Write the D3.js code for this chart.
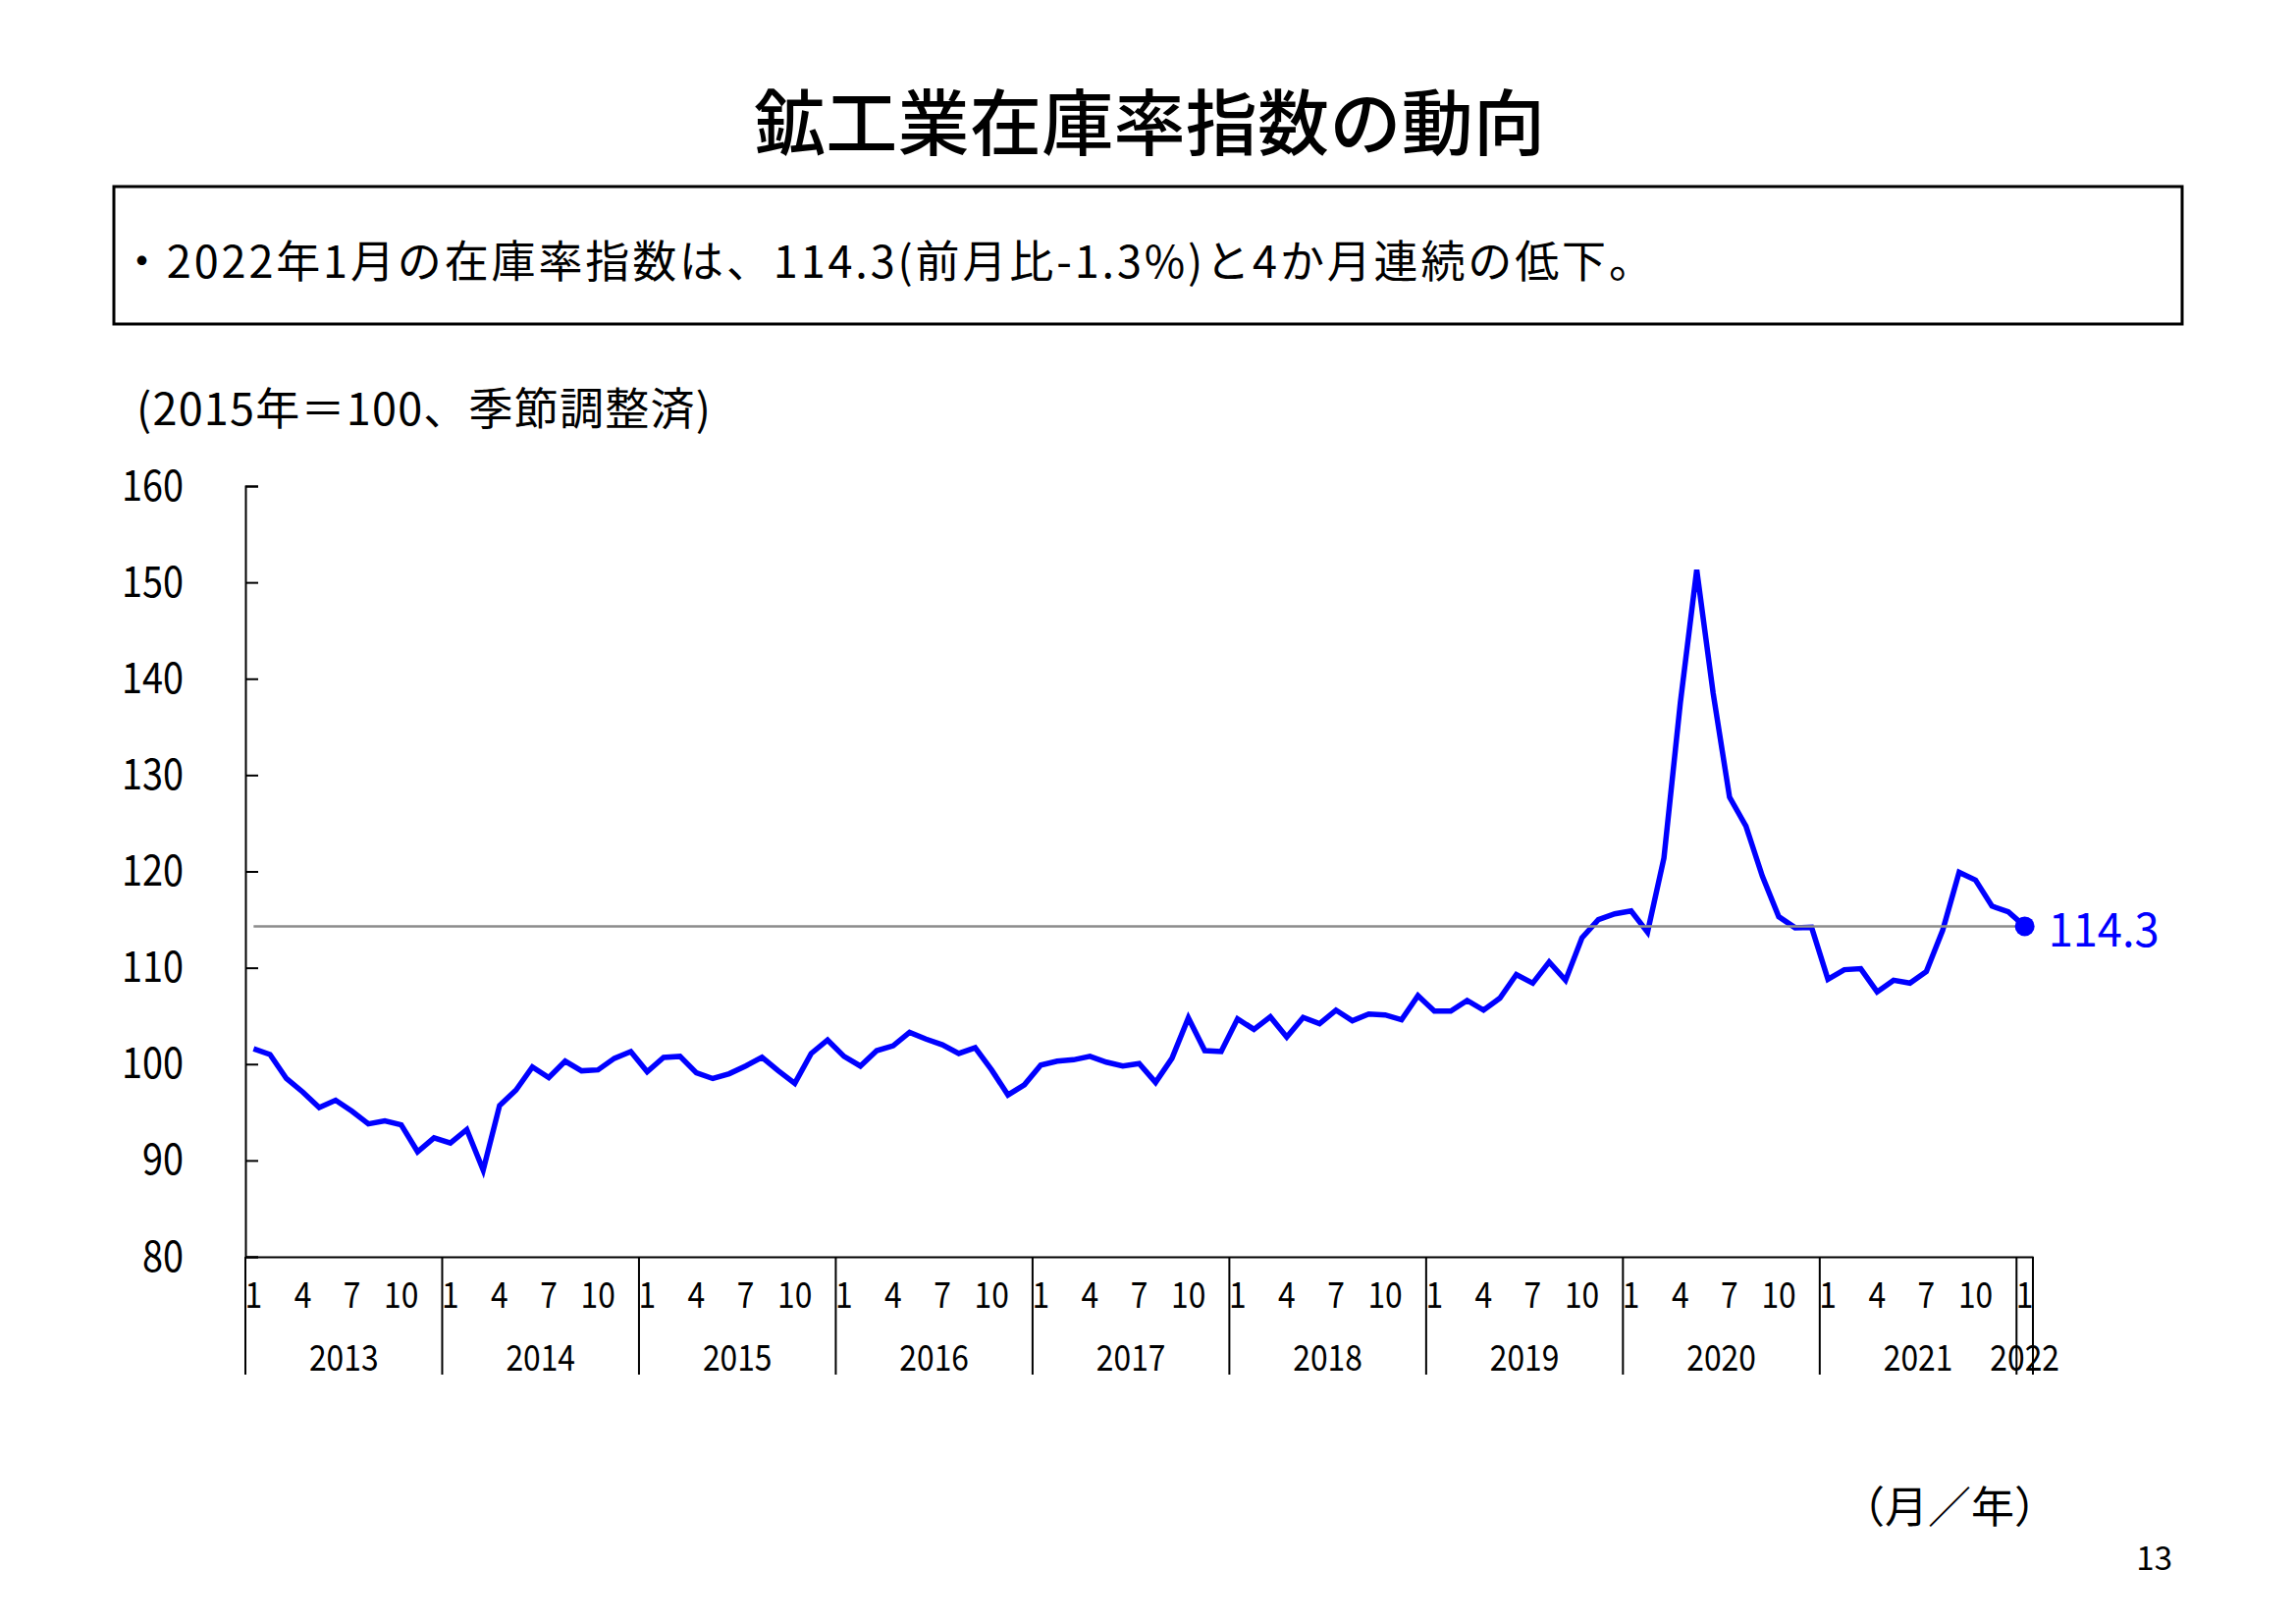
<!DOCTYPE html>
<html>
<head>
<meta charset="utf-8">
<script src="https://cdn.jsdelivr.net/npm/d3@7"></script>
<style>
  html, body { margin: 0; padding: 0; background: #fff; }
  svg text { font-family: "Noto Sans CJK JP", "Noto Sans", sans-serif; fill: #000; }
</style>
</head>
<body>
<svg id="chart" width="2339" height="1654"></svg>
<script>
// ---- data ----
const titleText = "鉱工業在庫率指数の動向";
const noteText = "・2022年1月の在庫率指数は、114.3(前月比-1.3%)と4か月連続の低下。";
const unitText = "(2015年＝100、季節調整済)";
const axisUnitText = "（月／年）";
const pageNo = "13";

const years = [2013, 2014, 2015, 2016, 2017, 2018, 2019, 2020, 2021, 2022];
const monthTickLabels = [1, 4, 7, 10];
const yTicks = [80, 90, 100, 110, 120, 130, 140, 150, 160];

const values2013 = [101.6, 101.0, 98.5, 97.1, 95.5, 96.25, 95.1, 93.8, 94.1, 93.7, 90.9, 92.35];
const values2014 = [91.8, 93.2, 89.0, 95.7, 97.3, 99.7, 98.6, 100.3, 99.3, 99.4, 100.6, 101.3];
const values2015 = [99.2, 100.7, 100.8, 99.1, 98.5, 99.0, 99.8, 100.7, 99.3, 98.0, 101.1, 102.5];
const values2016 = [100.8, 99.8, 101.4, 101.9, 103.3, 102.6, 102.0, 101.1, 101.7, 99.4, 96.8, 97.85];
const values2017 = [99.9, 100.3, 100.45, 100.8, 100.2, 99.8, 100.05, 98.1, 100.6, 104.8, 101.4, 101.3];
const values2018 = [104.7, 103.6, 104.9, 102.8, 104.85, 104.2, 105.6, 104.5, 105.2, 105.1, 104.6, 107.1];
const values2019 = [105.5, 105.5, 106.6, 105.6, 106.85, 109.3, 108.4, 110.6, 108.7, 113.1, 115.0, 115.6];
const values2020 = [115.9, 113.7, 121.4, 137.5, 151.3, 138.5, 127.7, 124.7, 119.5, 115.3, 114.15, 114.2];
const values2021 = [108.8, 109.8, 109.9, 107.5, 108.7, 108.4, 109.6, 113.9, 119.9, 119.1, 116.4, 115.8];
const values2022 = [114.3];
const latestLabel = "114.3";

// ---- build table ----
const yearValues = [values2013, values2014, values2015, values2016, values2017,
                    values2018, values2019, values2020, values2021, values2022];
const data = [];
years.forEach((yr, yi) => {
  yearValues[yi].forEach((v, mi) => data.push({ key: yr + "-" + (mi + 1), year: yr, month: mi + 1, value: v }));
});
const last = data[data.length - 1];

// ---- layout ----
const svg = d3.select("#chart");
const plot = { left: 250, right: 2071, top: 495, bottom: 1280 };
const digitScale = 0.86;

const x = d3.scaleBand().domain(data.map(d => d.key)).range([plot.left, plot.right]).padding(0);
const y = d3.scaleLinear().domain([80, 160]).range([plot.bottom, plot.top]);
const cx = d => x(d.key) + x.bandwidth() / 2;

function condense(sel, sx) {
  sel.each(function () {
    const t = d3.select(this);
    const tx = +t.attr("x") || 0, ty = +t.attr("y") || 0;
    t.attr("x", 0).attr("y", 0).attr("transform", `translate(${tx},${ty}) scale(${sx},1)`);
  });
}

// title
svg.append("text").attr("x", 1171).attr("y", 120).attr("text-anchor", "middle")
  .attr("dominant-baseline", "central").style("font-size", "73px").style("font-weight", 500)
  .attr("textLength", 806).attr("lengthAdjust", "spacing")
  .text(titleText);

// note box
svg.append("rect").attr("x", 116).attr("y", 190).attr("width", 2107).attr("height", 140)
  .attr("fill", "none").attr("stroke", "#000").attr("stroke-width", 3);
svg.append("text").attr("x", 122).attr("y", 263).attr("dominant-baseline", "central")
  .style("font-size", "45px").attr("textLength", 1562).attr("lengthAdjust", "spacing").text(noteText);

// unit text
svg.append("text").attr("x", 139).attr("y", 413).attr("dominant-baseline", "central")
  .style("font-size", "45px").attr("textLength", 585).attr("lengthAdjust", "spacing").text(unitText);

// y axis
const yAxis = d3.axisLeft(y).tickValues(yTicks).tickSize(-13).tickPadding(63).tickFormat(d3.format("d"));
const gy = svg.append("g").attr("transform", `translate(${plot.left},0)`).call(yAxis);
gy.select(".domain").attr("stroke", "#000").attr("stroke-width", 2);
gy.selectAll(".tick line").attr("stroke", "#000").attr("stroke-width", 2);
gy.selectAll(".tick text").style("font-size", "44px").style("font-family", '"Noto Sans CJK JP", sans-serif')
  .attr("fill", "#000");
condense(gy.selectAll(".tick text"), digitScale);

// x axis (months)
const monthKeys = data.filter(d => monthTickLabels.includes(d.month)).map(d => d.key);
const xAxis = d3.axisBottom(x).tickValues(monthKeys).tickSize(0).tickPadding(0)
  .tickFormat(k => k.split("-")[1]);
const gx = svg.append("g").attr("transform", `translate(0,${plot.bottom})`).call(xAxis);
gx.select(".domain").attr("stroke", "#000").attr("stroke-width", 2);
gx.selectAll(".tick text").attr("y", 39).attr("dy", "0.35em").style("font-size", "37px")
  .style("font-family", '"Noto Sans CJK JP", sans-serif').attr("fill", "#000");
condense(gx.selectAll(".tick text"), digitScale);

// year separators & labels
const yearSpans = years.map(yr => {
  const ds = data.filter(d => d.year === yr);
  return { year: yr, x0: x(ds[0].key), x1: x(ds[ds.length - 1].key) + x.bandwidth() };
});
const sepX = yearSpans.map(s => s.x0).concat([yearSpans[yearSpans.length - 1].x1]);
svg.append("g").selectAll("line").data(sepX).join("line")
  .attr("x1", d => d).attr("x2", d => d).attr("y1", plot.bottom).attr("y2", 1400)
  .attr("stroke", "#000").attr("stroke-width", 2);
const yl = svg.append("g").selectAll("text").data(yearSpans).join("text")
  .attr("x", d => (d.x0 + d.x1) / 2).attr("y", 1380).attr("text-anchor", "middle")
  .attr("dominant-baseline", "central").style("font-size", "37px").text(d => d.year);
condense(yl, digitScale);

// data line
const line = d3.line().x(cx).y(d => y(d.value));
svg.append("path").datum(data).attr("d", line).attr("fill", "none")
  .attr("stroke", "#0000ff").attr("stroke-width", 5.5).attr("stroke-linejoin", "miter");

// reference line at latest value
svg.append("line").attr("x1", cx(data[0])).attr("x2", cx(last))
  .attr("y1", y(last.value)).attr("y2", y(last.value))
  .attr("stroke", "#8c8c8c").attr("stroke-width", 2.5);

// latest marker & label
svg.append("circle").attr("cx", cx(last)).attr("cy", y(last.value)).attr("r", 10).attr("fill", "#0000ff");
svg.append("text").attr("x", cx(last) + 24).attr("y", y(last.value)).attr("dominant-baseline", "central")
  .style("font-size", "47px").style("fill", "#0000ff")
  .attr("textLength", 113).attr("lengthAdjust", "spacingAndGlyphs").text(latestLabel);

// axis unit & page number
svg.append("text").attr("x", 2096).attr("y", 1532).attr("text-anchor", "end").attr("dominant-baseline", "central")
  .style("font-size", "44px").text(axisUnitText);
svg.append("text").attr("x", 2213).attr("y", 1585).attr("text-anchor", "end").attr("dominant-baseline", "central")
  .style("font-size", "33px").text(pageNo);
</script>
</body>
</html>
